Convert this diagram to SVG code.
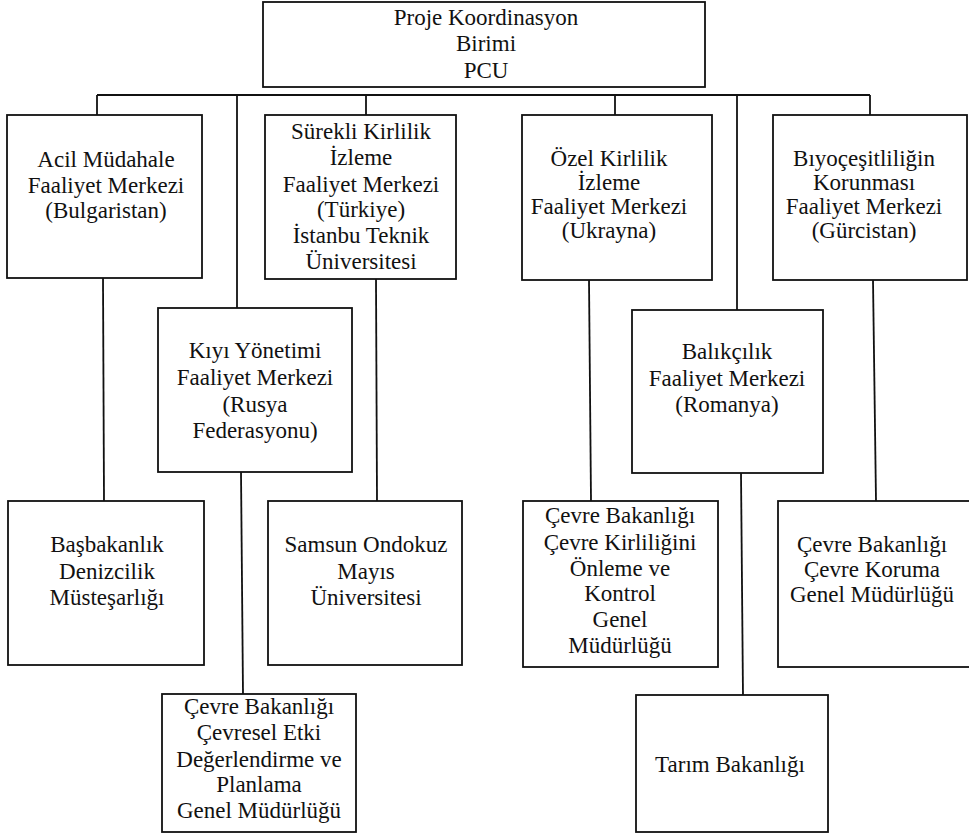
<svg xmlns="http://www.w3.org/2000/svg" width="969" height="835" viewBox="0 0 969 835">
<style>
  rect.box { fill: #ffffff; stroke: #111111; stroke-width: 1.8; }
  .conn line { stroke: #111111; stroke-width: 1.8; fill: none; }
  text { font-family: "Liberation Serif", "Times New Roman", serif; font-size: 23px; fill: #111111; text-anchor: middle; }
</style>
<rect width="969" height="835" fill="#ffffff"/>
<g id="connectors" class="conn">
  <line x1="97" y1="95" x2="870" y2="95"/>
  <line x1="97" y1="95" x2="97" y2="115"/>
  <line x1="237" y1="95" x2="237" y2="308"/>
  <line x1="366" y1="95" x2="366" y2="115"/>
  <line x1="615" y1="95" x2="615" y2="115"/>
  <line x1="737" y1="95" x2="737" y2="310"/>
  <line x1="870" y1="95" x2="870" y2="115"/>
  <line x1="103" y1="278" x2="104" y2="501"/>
  <line x1="376" y1="279" x2="377" y2="501"/>
  <line x1="589" y1="280" x2="591" y2="501"/>
  <line x1="873" y1="280" x2="876" y2="501"/>
  <line x1="241" y1="472" x2="243" y2="694"/>
  <line x1="741" y1="473" x2="743" y2="695"/>
</g>
<g id="pcu">
  <rect class="box" x="263" y="2" width="442" height="85"/>
  <text x="486" y="25">Proje Koordinasyon</text>
  <text x="486" y="51">Birimi</text>
  <text x="486" y="78">PCU</text>
</g>
<g id="acil">
  <rect class="box" x="7" y="115" width="195" height="163"/>
  <text x="106" y="167">Acil Müdahale</text>
  <text x="106" y="193">Faaliyet Merkezi</text>
  <text x="106" y="218">(Bulgaristan)</text>
</g>
<g id="surekli">
  <rect class="box" x="265" y="115" width="191" height="164"/>
  <text x="361" y="139">Sürekli Kirlilik</text>
  <text x="361" y="165">İzleme</text>
  <text x="361" y="192">Faaliyet Merkezi</text>
  <text x="361" y="217">(Türkiye)</text>
  <text x="361" y="243">İstanbu Teknik</text>
  <text x="361" y="269">Üniversitesi</text>
</g>
<g id="ozel">
  <rect class="box" x="522" y="115" width="190" height="165"/>
  <text x="609" y="166">Özel Kirlilik</text>
  <text x="609" y="190">İzleme</text>
  <text x="609" y="214">Faaliyet Merkezi</text>
  <text x="609" y="238">(Ukrayna)</text>
</g>
<g id="biyo">
  <rect class="box" x="773" y="115" width="194" height="165"/>
  <text x="864" y="166">Bıyoçeşitliliğin</text>
  <text x="864" y="190">Korunması</text>
  <text x="864" y="214">Faaliyet Merkezi</text>
  <text x="864" y="238">(Gürcistan)</text>
</g>
<g id="kiyi">
  <rect class="box" x="158" y="308" width="194" height="164"/>
  <text x="255" y="358">Kıyı Yönetimi</text>
  <text x="255" y="385">Faaliyet Merkezi</text>
  <text x="255" y="412">(Rusya</text>
  <text x="255" y="438">Federasyonu)</text>
</g>
<g id="balikcilik">
  <rect class="box" x="632" y="310" width="191" height="163"/>
  <text x="727" y="359">Balıkçılık</text>
  <text x="727" y="386">Faaliyet Merkezi</text>
  <text x="727" y="412">(Romanya)</text>
</g>
<g id="basbakanlik">
  <rect class="box" x="8" y="501" width="196" height="164"/>
  <text x="107" y="552">Başbakanlık</text>
  <text x="107" y="579">Denizcilik</text>
  <text x="107" y="605">Müsteşarlığı</text>
</g>
<g id="samsun">
  <rect class="box" x="268" y="501" width="194" height="164"/>
  <text x="366" y="552">Samsun Ondokuz</text>
  <text x="366" y="579">Mayıs</text>
  <text x="366" y="605">Üniversitesi</text>
</g>
<g id="cevre-kirlilik">
  <rect class="box" x="523" y="501" width="195" height="166"/>
  <text x="620" y="523">Çevre Bakanlığı</text>
  <text x="620" y="550">Çevre Kirliliğini</text>
  <text x="620" y="576">Önleme ve</text>
  <text x="620" y="601">Kontrol</text>
  <text x="620" y="627">Genel</text>
  <text x="620" y="653">Müdürlüğü</text>
</g>
<g id="cevre-koruma">
  <rect class="box" x="778" y="501" width="200" height="166"/>
  <text x="872" y="552">Çevre Bakanlığı</text>
  <text x="872" y="577">Çevre Koruma</text>
  <text x="872" y="602">Genel Müdürlüğü</text>
</g>
<g id="cevresel-etki">
  <rect class="box" x="162" y="694" width="194" height="138"/>
  <text x="259" y="714">Çevre Bakanlığı</text>
  <text x="259" y="740">Çevresel Etki</text>
  <text x="259" y="767">Değerlendirme ve</text>
  <text x="259" y="792">Planlama</text>
  <text x="259" y="818">Genel Müdürlüğü</text>
</g>
<g id="tarim">
  <rect class="box" x="636" y="695" width="192" height="137"/>
  <text x="730" y="772">Tarım Bakanlığı</text>
</g>
</svg>
